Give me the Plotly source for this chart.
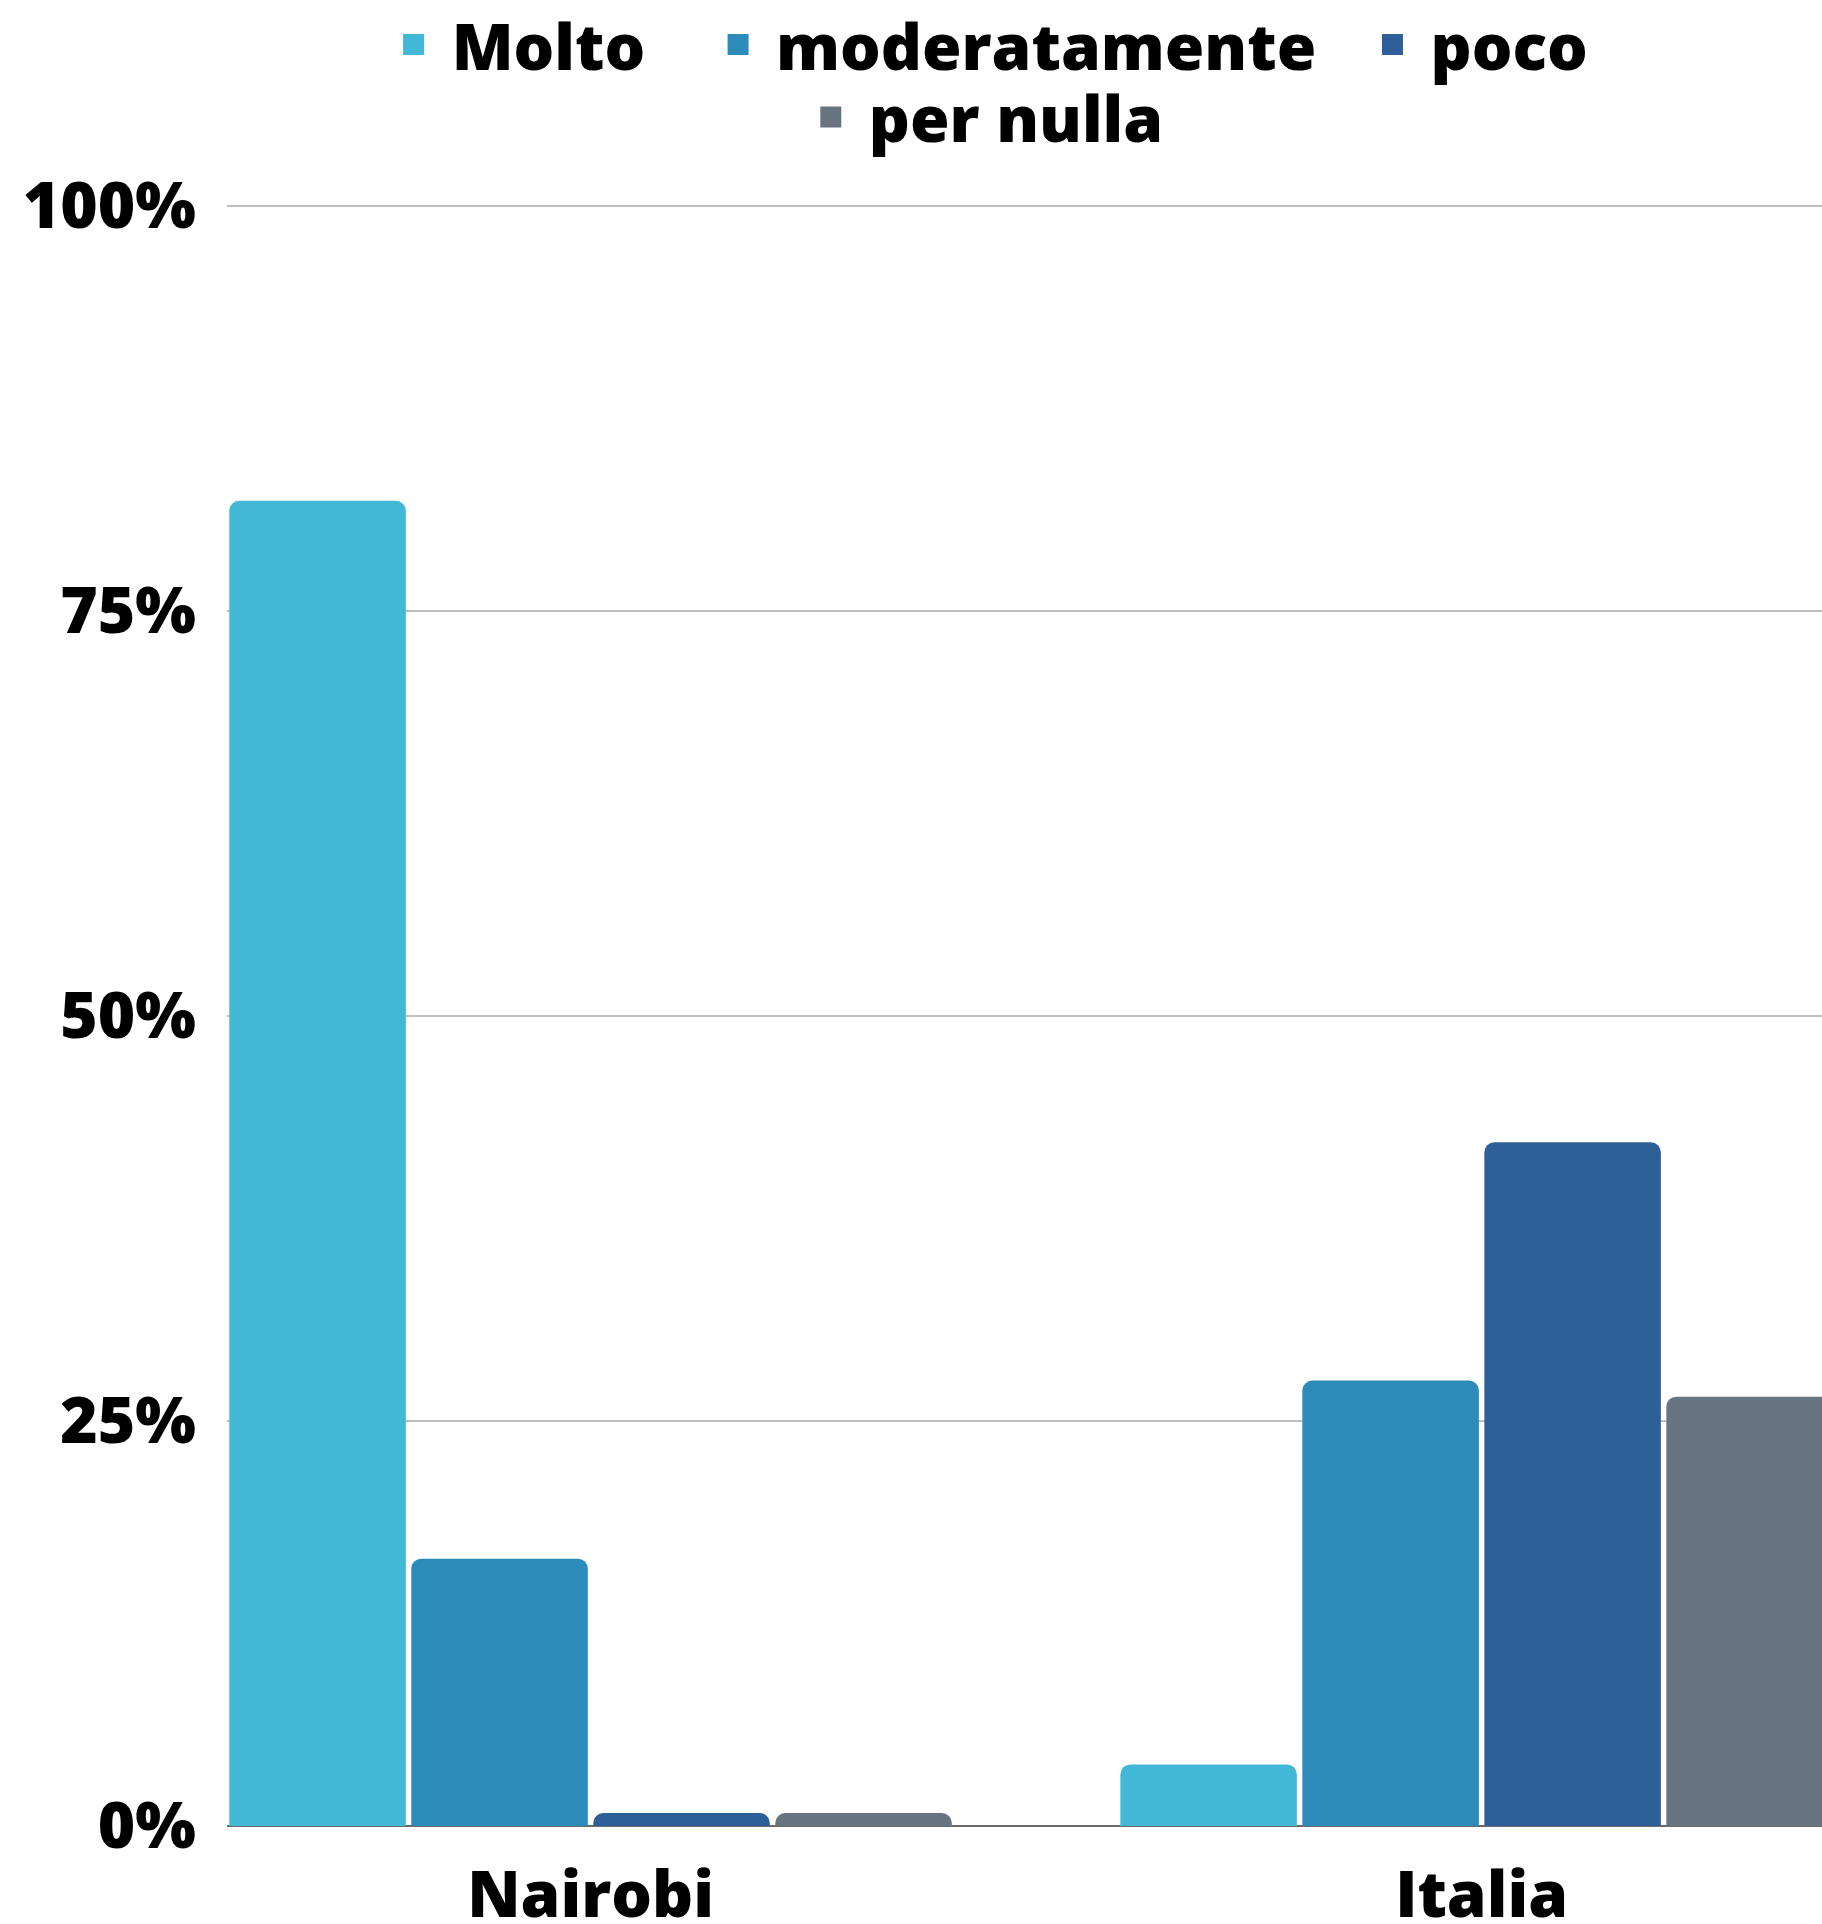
import plotly.graph_objects as go

# Dati (percentuali)
categorie = ["Nairobi", "Italia"]
serie = ["Molto", "moderatamente", "poco", "per nulla"]
molto = [81.8, 3.8]
moderatamente = [16.5, 27.5]
poco = [0.8, 42.2]
per_nulla = [0.8, 26.5]
valori = [molto, moderatamente, poco, per_nulla]
colori = ["#43b7d6", "#2d8bb9", "#2f5f98", "#687480"]
tick_y = [0, 25, 50, 75, 100]
tick_y_testo = ["0%", "25%", "50%", "75%", "100%"]

FONT = "Open Sans"
NBSP = "\u00a0"
spazi = [3, 2, 0, 0]  # spazi finali per distanziare le voci di legenda

fig = go.Figure()

for nome, vals, col in zip(serie, valori, colori):
    fig.add_trace(go.Bar(
        x=categorie, y=vals,
        name=nome,
        marker={"color": col, "line": {"width": 0}},
        showlegend=False,
    ))

# voci di legenda con quadratini più grandi
for i, (nome, col) in enumerate(zip(serie, colori)):
    fig.add_trace(go.Scatter(
        x=[None], y=[None],
        mode="markers",
        name=nome + NBSP * spazi[i],
        marker={"color": col, "size": 16, "symbol": "square",
                "line": {"color": col, "width": 5}},
        legend="legend" if i < 3 else "legend2",
        hoverinfo="skip",
    ))

legenda = dict(
    orientation="h",
    xanchor="center",
    yanchor="middle",
    font={"family": FONT, "size": 64, "color": "#000000", "weight": 800},
    itemwidth=66,
    bgcolor="rgba(0,0,0,0)",
)

fig.update_layout(
    width=1822, height=1924,
    margin={"l": 227, "r": 0, "t": 201, "b": 98, "autoexpand": False},
    paper_bgcolor="white",
    plot_bgcolor="white",
    barmode="group",
    bargap=0.183,
    bargroupgap=0.03,
    barcornerradius=10,
    legend={**legenda, "x": 0.4750, "y": 1.096},
    legend2={**legenda, "x": 0.4726, "y": 1.0514},
    xaxis={
        "range": [-0.408, 1.382],
        "showgrid": False,
        "showline": False,
        "ticks": "",
        "ticklabelstandoff": 26,
        "tickfont": {"family": FONT, "size": 64, "color": "#000000", "weight": 800},
    },
    yaxis={
        "range": [0, 100.3],
        "tickvals": tick_y,
        "ticktext": tick_y_testo,
        "showgrid": True,
        "gridcolor": "#c0c0c0",
        "gridwidth": 2,
        "zeroline": True,
        "zerolinecolor": "#6b6b6b",
        "zerolinewidth": 2,
        "showline": False,
        "ticks": "",
        "ticklabelstandoff": 30,
        "tickfont": {"family": FONT, "size": 64, "color": "#000000", "weight": 800},
    },
)

# niente margine della pagina: il grafico occupa tutta la finestra
fig.write_html(
    "out.html",
    config={"displayModeBar": False},
    post_script="document.body.style.margin='0';document.body.style.overflow='hidden';",
)
